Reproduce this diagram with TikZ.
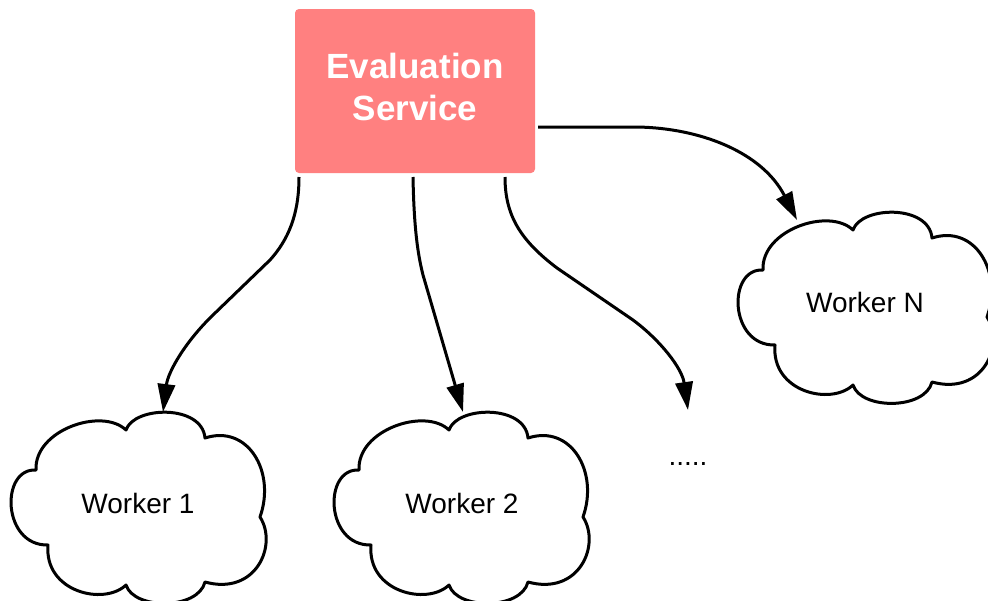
\documentclass[tikz,border=0pt]{standalone}
\usepackage{fontspec}
\setmainfont{Liberation Sans}
\usetikzlibrary{arrows.meta}

\definecolor{svcred}{HTML}{FF8080}

\tikzset{
  line/.style={line width=2.25pt, draw=black},
  flow/.style={line, -{Triangle[length=21pt, width=13pt]}},
  cloudline/.style={line, fill=white, line join=round},
  workertext/.style={font=\fontsize{21}{25}\selectfont, inner sep=0pt},
  svcbox/.style={fill=svcred, draw=none, rounded corners=3pt,
    minimum width=180pt, minimum height=123pt, inner sep=0pt},
  svctext/.style={text=white, font=\fontsize{26.25}{31.5}\selectfont\bfseries,
    align=center, inner sep=0pt},
  % cloud outline in local pixel units, bounding box about 258 x 193
  cloudshape/.pic={
    \draw[cloudline] (26,60)
      .. controls (24,20) and (92,-3) .. (116,20)
      .. controls (124,-4) and (192,-6) .. (195,28)
      .. controls (238,14) and (266,62) .. (250,107)
      .. controls (268,135) and (246,186) .. (195,172)
      .. controls (188,200) and (124,200) .. (116,175)
      .. controls (94,196) and (34,182) .. (38,135)
      .. controls (-8,136) and (-10,58) .. (26,60) -- cycle;
  }
}

\begin{document}
\begin{tikzpicture}[x=0.75pt, y=-0.75pt]
  \useasboundingbox (0,0) rectangle (988,600);
  \clip (0,0) rectangle (988,600);

  % service box
  \node[svcbox] (svc) at (415,91) {};
  \node[svctext] (svclabel) at (415,86.5) {Evaluation\\Service};

  % worker clouds
  \pic (w1c) at (10,410) {cloudshape};
  \pic (w2c) at (333,410) {cloudshape};
  \pic (wnc) at (737,210) {cloudshape};
  \node[workertext] (w1) at (138,503) {Worker 1};
  \node[workertext] (w2) at (462,503) {Worker 2};
  \node[workertext] (wn) at (865,302) {Worker N};
  \node[workertext, anchor=base] (more) at (688,465) {.....};

  % connector ends
  \coordinate (s1) at (299,177);
  \coordinate (s2) at (413,177);
  \coordinate (s3) at (505,177);
  \coordinate (s4) at (538,127);
  \coordinate (t1) at (163,412);
  \coordinate (t2) at (463,412);
  \coordinate (t3) at (688,410);
  \coordinate (t4) at (797,220);

  % connectors
  \draw[flow] (s1) .. controls (299,215) and (288,240) .. (270,260)
    -- (213,315) .. controls (185,342) and (168,372) .. (t1);
  \draw[flow] (s2) .. controls (414,230) and (418,255) .. (423,275) -- (t2);
  \draw[flow] (s3) .. controls (505,215) and (520,240) .. (557,268)
    -- (633,320) .. controls (660,340) and (682,368) .. (t3);
  \draw[flow] (s4) -- (637,127) .. controls (700,128) and (762,152) .. (t4);
\end{tikzpicture}
\end{document}
